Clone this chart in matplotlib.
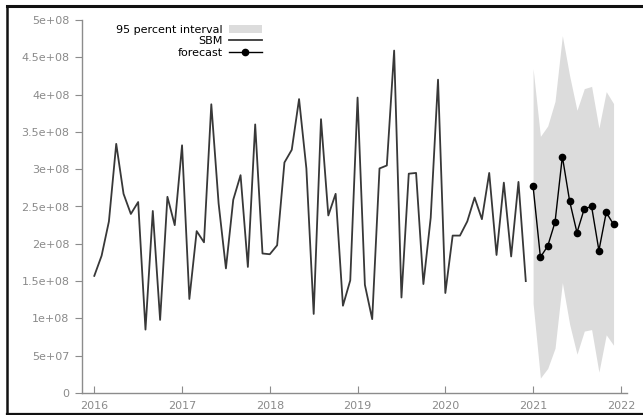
import numpy as np
import matplotlib
matplotlib.use("Agg")
import matplotlib.pyplot as plt
from matplotlib.lines import Line2D

# monthly SBM values, Jan 2016 .. Dec 2020 (units of 1e8)
sbm = [1.57, 1.84, 2.30, 3.34, 2.67, 2.40, 2.56, 0.85, 2.44, 0.98, 2.63, 2.25,
       3.32, 1.26, 2.17, 2.02, 3.87, 2.54, 1.67, 2.59, 2.92, 1.69, 3.60, 1.87,
       1.86, 1.98, 3.09, 3.26, 3.94, 3.01, 1.06, 3.67, 2.38, 2.67, 1.17, 1.51,
       3.96, 1.45, 0.99, 3.01, 3.05, 4.59, 1.28, 2.94, 2.95, 1.46, 2.35, 4.20,
       1.34, 2.11, 2.11, 2.30, 2.62, 2.33, 2.95, 1.85, 2.82, 1.83, 2.83, 1.50]

# forecast for Jan 2021 .. Dec 2021 with 95% bounds
forecast = [2.77, 1.82, 1.97, 2.29, 3.17, 2.57, 2.15, 2.47, 2.50, 1.91, 2.42, 2.26]
upper = [4.35, 3.44, 3.58, 3.91, 4.79, 4.25, 3.79, 4.08, 4.11, 3.55, 4.04, 3.88]
lower = [1.20, 0.20, 0.33, 0.60, 1.48, 0.92, 0.52, 0.83, 0.85, 0.28, 0.78, 0.64]

years = [2016, 2017, 2018, 2019, 2020, 2021, 2022]

scale = 1e8
t_hist = 2016 + np.arange(len(sbm)) / 12
t_fc = 2021 + np.arange(len(forecast)) / 12

fig = plt.figure(figsize=(6.43, 4.15), dpi=100)
ax = fig.add_axes([82 / 643, 22 / 415, 545 / 643, 373 / 415])

ax.fill_between(t_fc, np.array(lower) * scale, np.array(upper) * scale,
                color="#dcdcdc", linewidth=0, label="95 percent interval")
ax.plot(t_hist, np.array(sbm) * scale, color="#383838", lw=1.3, label="SBM")
ax.plot(t_fc, np.array(forecast) * scale, color="black", lw=1.0,
        marker="o", markersize=4.5, label="forecast")

ax.set_xlim(2015.86, 2022.07)
ax.set_ylim(0, 5e8)
ax.set_xticks(years)
ax.set_xticklabels([str(y) for y in years])
ax.set_yticks(np.arange(0, 5.01e8, 0.5e8))
ax.set_yticklabels(["0", "5e+07", "1e+08", "1.5e+08", "2e+08", "2.5e+08",
                    "3e+08", "3.5e+08", "4e+08", "4.5e+08", "5e+08"])

for side in ["top", "right"]:
    ax.spines[side].set_visible(False)
for side in ["left", "bottom"]:
    ax.spines[side].set_color("#8c8c8c")
    ax.spines[side].set_linewidth(1.0)
ax.tick_params(axis="y", direction="out", length=5, color="#8c8c8c",
               labelcolor="#8a8a8a", labelsize=8, pad=4)
ax.tick_params(axis="x", direction="in", length=5, color="#8c8c8c",
               labelcolor="#8a8a8a", labelsize=8, pad=6)

ax.legend(loc="upper right", bbox_to_anchor=(0.330, 0.987), frameon=False,
          markerfirst=False, fontsize=8, handlelength=3.0, borderpad=0,
          borderaxespad=0, labelspacing=0.12, handletextpad=0.5)

# dark frame on the top, left and bottom of the figure
def px(x, y):
    return x / 643, 1 - y / 415

x0, y0 = px(6.5, 6.5)
x1, y1 = px(650, 413.5)
fig.add_artist(Line2D([x0, x1], [y0, y0], transform=fig.transFigure,
                      color="#111111", lw=2.2))
fig.add_artist(Line2D([x0, x0], [y0, y1], transform=fig.transFigure,
                      color="#111111", lw=1.8))
fig.add_artist(Line2D([x0, x1], [y1, y1], transform=fig.transFigure,
                      color="#111111", lw=1.6))

fig.savefig("out.png", dpi=100)
